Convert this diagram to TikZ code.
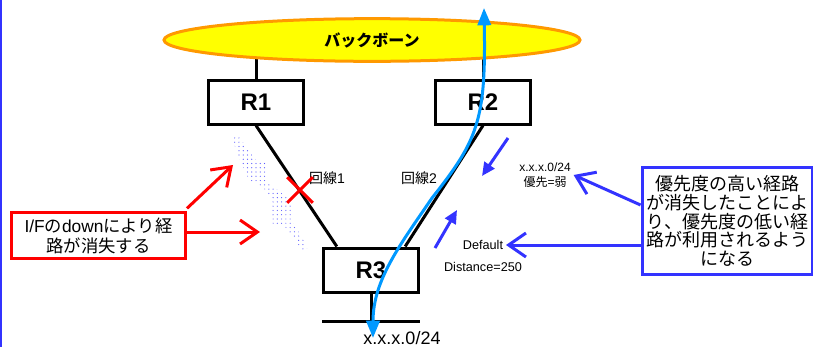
\documentclass[tikz,border=0pt]{standalone}
\usepackage{fontspec}
\setmainfont{Liberation Sans}
\newfontfamily\jp{Noto Sans CJK JP}
\usepackage{tikz}
\usetikzlibrary{positioning,arrows.meta,shapes.geometric,shapes.misc,patterns.meta}
\definecolor{routecolor}{RGB}{0,153,255}
\definecolor{notered}{RGB}{255,0,0}
\definecolor{noteblue}{RGB}{51,51,255}
\definecolor{bbfill}{RGB}{255,255,0}
\definecolor{bbdraw}{RGB}{255,153,0}
\pgfdeclarelayer{bg}
\pgfsetlayers{bg,main}
\tikzset{
  router/.style={
    rectangle,
    draw=black,
    fill=white,
    line width=2.25pt,
    minimum width=71pt,
    minimum height=33pt,
    inner sep=0pt,
    font=\bfseries\fontsize{18}{18}\selectfont
  },
  backbone/.style={
    ellipse,
    draw=bbdraw,
    fill=bbfill,
    line width=2.25pt,
    minimum width=312pt,
    minimum height=32pt,
    inner sep=0pt,
    font=\jp\bfseries\fontsize{12}{12}\selectfont
  },
  wire/.style={
    draw=black,
    line width=2.25pt
  },
  linklabel/.style={
    inner sep=1pt,
    font=\fontsize{10.5}{12}\selectfont
  },
  smalllabel/.style={
    inner sep=2pt,
    align=center,
    font=\fontsize{9}{11}\selectfont
  },
  cut/.style={
    cross out,
    draw=notered,
    line width=2.25pt,
    minimum size=17pt,
    inner sep=0pt
  },
  redbox/.style={
    rectangle,
    draw=notered,
    fill=white,
    line width=2.25pt,
    minimum width=130.5pt,
    minimum height=34.5pt,
    align=center,
    font=\fontsize{13}{15}\selectfont
  },
  bluebox/.style={
    rectangle,
    draw=noteblue,
    fill=white,
    line width=2.25pt,
    minimum width=124.5pt,
    minimum height=80pt,
    align=center,
    font=\jp\fontsize{13.5}{14}\selectfont
  },
  redarrow/.style={
    draw=notered,
    line width=2.25pt,
    -{Straight Barb[length=13pt,width=18pt]}
  },
  bluearrow/.style={
    draw=noteblue,
    line width=2.25pt,
    -{Straight Barb[length=13pt,width=18pt]}
  },
  hint/.style={
    draw=noteblue,
    line width=2.25pt,
    -{Triangle[length=10pt,width=9pt]}
  },
  route/.style={
    draw=routecolor,
    line width=2.25pt,
    {Triangle[length=13pt,width=10pt]}-{Triangle[length=13pt,width=10pt]}
  }
}

\begin{document}
\begin{tikzpicture}[x=0.75pt,y=-0.75pt,node distance=170.25pt]
  \useasboundingbox (0,0) rectangle (813,347);
  % left edge
  \draw[noteblue, line width=1.5pt] (1,0) -- (1,347);

  % Backbone and routers
  \node[backbone] (bb) at (372,40) {バックボーン};
  \node[router] (r1) at (256,102) {R1};
  \node[router, right of=r1] (r2) {R2};
  \node[router] (r3) at (371,270) {R3};
  \coordinate (lan) at (371,321);

  \begin{pgfonlayer}{bg}
    \draw[wire] (r1.north) -- (r1.north |- bb.center);
    \draw[wire] (r2.north) -- (r2.north |- bb.center);
    \draw[wire] (r1.south) -- ([xshift=11pt]r3.north west);
    \draw[wire] (r2.south) -- ([xshift=-11pt]r3.north east);
    \draw[wire] (r3.south) -- (lan);
  \end{pgfonlayer}
  \draw[wire] (lan -| r3.west) -- (lan -| r3.east);

  % Lines
  \node[linklabel] (l1) at (327,178) {{\jp 回線}1};
  \node[linklabel] (l2) at (419,178) {{\jp 回線}2};
  \node[cut] (x1) at (300,190) {};

  % broken link
  \fill[pattern={Dots[radius=0.45pt,distance=3.2pt]}, pattern color=blue!65] (231,136) -- (238,136) -- (256,160) -- (267,160)
    -- (268,182) -- (290,200) -- (294,224) -- (308,248) -- (302,250) -- (287,228)
    -- (273,224) -- (272,198) -- (262,186) -- (250,182) -- (240,160) -- cycle;

  % I/F down note
  \node[redbox] (ifdown) at (98.5,235.5) {I/F{\jp の}down{\jp により経}\\{\jp 路が消失する}};
  \coordinate (hitA) at (233,165);
  \coordinate (hitB) at (260,232);
  \draw[redarrow] ([yshift=2pt]ifdown.north east) -- (hitA);
  \draw[redarrow] (ifdown.east |- hitB) -- (hitB);

  % Routes
  \node[smalllabel] (pref) at (545,175) {x.x.x.0/24\\{\jp 優先}={\jp 弱}};
  \node[smalllabel, font=\fontsize{9.5}{11}\selectfont] (dflt) at (483,245) {Default};
  \node[smalllabel, font=\fontsize{9.5}{11}\selectfont] (dist) at (483,267) {Distance=250};
  \node[inner sep=1pt, font=\fontsize{13.5}{14}\selectfont] (net) at (402,338) {x.x.x.0/24};
  \coordinate (h1s) at (508,138);
  \coordinate (h1e) at (482,176);
  \coordinate (h2s) at (435,248);
  \coordinate (h2e) at (457,210);
  \draw[hint] (h1s) -- (h1e);
  \draw[hint] (h2s) -- (h2e);

  % Explanation
  \node[bluebox] (cause) at (727.5,221) {優先度の高い経路\\が消失したことによ\\り、優先度の低い経\\路が利用されるよう\\になる};
  \draw[bluearrow] ([yshift=12pt]cause.west) -- (pref.east);
  \draw[bluearrow] (cause.west |- dflt.east) -- (dflt.east);

  % Traffic path
  \coordinate (up) at (484,8);
  \coordinate (down) at (373,338);
  \draw[route] (down) .. controls (373,280) and (400,245) .. (432,198)
    .. controls (478,140) and (486,120) .. (up);
\end{tikzpicture}
\end{document}
